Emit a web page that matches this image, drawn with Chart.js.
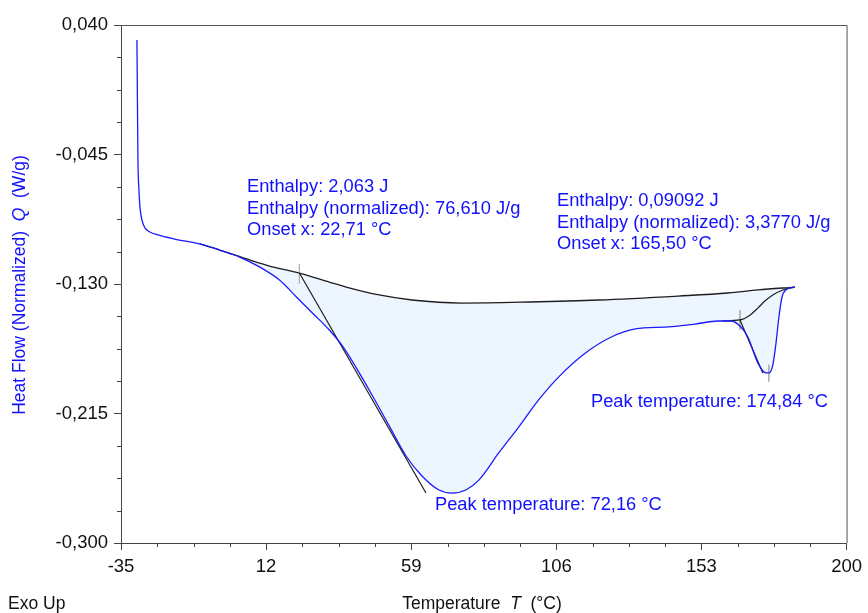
<!DOCTYPE html>
<html>
<head>
<meta charset="utf-8">
<script src="https://cdn.jsdelivr.net/npm/chart.js@4/dist/chart.umd.min.js"></script>
<style>
  html, body { margin: 0; padding: 0; background: #fff; }
  #wrap { width: 868px; height: 613px; position: relative; }
</style>
</head>
<body>
<div id="wrap"><canvas id="dscChart"></canvas></div>
<script>
// DSC curve - heat flow vs temperature

// measured curve (blue)
const curveT = [-29.84, -29.68, -29.51, -29.19, -28.87, -28.22, -27.25, -25.64, -23.06, -17.57, -9.50, -3.04, 3.41, 9.87, 16.33, 21.81, 26.98, 32.47, 36.66, 41.50, 46.35, 51.83, 57.32, 62.49, 67.97, 72.17, 76.69, 80.89, 87.34, 93.80, 100.26, 106.71, 115.43, 123.82, 131.57, 142.22, 150.94, 158.36, 162.56, 165.78, 168.04, 171.27, 173.85, 174.82, 176.11, 177.08, 178.05, 179.02, 180.31, 183.22];
const curveQ = [0.0302, -0.0092, -0.0486, -0.0683, -0.0794, -0.0880, -0.0932, -0.0959, -0.0978, -0.1005, -0.1037, -0.1077, -0.1123, -0.1188, -0.1274, -0.1385, -0.1490, -0.1602, -0.1705, -0.1860, -0.2030, -0.2230, -0.2429, -0.2560, -0.2652, -0.2672, -0.2652, -0.2587, -0.2409, -0.2239, -0.2061, -0.1911, -0.1753, -0.1648, -0.1595, -0.1582, -0.1563, -0.1543, -0.1543, -0.1582, -0.1648, -0.1818, -0.1884, -0.1884, -0.1832, -0.1700, -0.1523, -0.1392, -0.1339, -0.1320];

// integration baseline (upper black line)
const baseT = [-9.50, -3.04, 6.64, 13.10, 22.78, 32.47, 37.95, 48.61, 59.26, 75.40, 97.02, 119.62, 145.45, 161.59, 171.27, 183.22];
const baseQ = [-0.1037, -0.1077, -0.1142, -0.1182, -0.1228, -0.1287, -0.1320, -0.1372, -0.1405, -0.1425, -0.1418, -0.1405, -0.1379, -0.1359, -0.1339, -0.1320];

// second peak baseline
const base2T = [159.60, 165.46, 168.69, 171.27, 173.53, 176.11, 179.34, 183.22];
const base2Q = [-0.1543, -0.1536, -0.1505, -0.1458, -0.1412, -0.1372, -0.1339, -0.1320];

// onset tangents
const tan1T = [22.78, 63.78];
const tan1Q = [-0.1228, -0.2672];
const tan2T = [165.46, 172.88];
const tan2Q = [-0.1536, -0.1884];

// small marker ticks (onset 1, onset 2, peak 2)
const markT = [22.78, 165.46, 174.82];
const markQtop = [-0.1170, -0.1470, -0.1830];
const markQbot = [-0.1300, -0.1600, -0.1940];

// axes
const xTicks = [-35, 12, 59, 106, 153, 200];
const yTicks = [0.040, -0.045, -0.130, -0.215, -0.300];

const annotations1 = ['Enthalpy: 2,063 J', 'Enthalpy (normalized): 76,610 J/g', 'Onset x: 22,71 °C'];
const annotations2 = ['Enthalpy: 0,09092 J', 'Enthalpy (normalized): 3,3770 J/g', 'Onset x: 165,50 °C'];
const peak1Label = 'Peak temperature: 72,16 °C';
const peak2Label = 'Peak temperature: 174,84 °C';

const FONT = '"Liberation Sans", Arial, sans-serif';
const BLUE = '#1010ff';

function pts(xs, ys) {
    return xs.map((x, i) => ({x: x, y: ys[i]}));
}

let datasets = [
    {
        label: 'curve',
        data: pts(curveT, curveQ),
        borderColor: '#1a1aff',
        borderWidth: 1.3,
        pointRadius: 0,
        cubicInterpolationMode: 'monotone',
        fill: false
    },
    {
        label: 'baseline',
        data: pts(baseT, baseQ),
        borderColor: '#1e1e1e',
        borderWidth: 1.3,
        pointRadius: 0,
        cubicInterpolationMode: 'monotone',
        backgroundColor: '#edf5ff',
        fill: {target: 0}
    },
    {
        label: 'baseline2',
        data: pts(base2T, base2Q),
        borderColor: '#1e1e1e',
        borderWidth: 1.2,
        pointRadius: 0,
        cubicInterpolationMode: 'monotone',
        fill: false
    },
    {
        label: 'tangent1',
        data: pts(tan1T, tan1Q),
        borderColor: '#1e1e1e',
        borderWidth: 1.2,
        pointRadius: 0,
        fill: false
    },
    {
        label: 'tangent2',
        data: pts(tan2T, tan2Q),
        borderColor: '#1e1e1e',
        borderWidth: 1.2,
        pointRadius: 0,
        fill: false
    }
];

markT.forEach((t, i) => {
    datasets.push({
        label: 'mark' + i,
        data: [{x: t, y: markQtop[i]}, {x: t, y: markQbot[i]}],
        borderColor: '#b0b0b0',
        borderWidth: 1,
        pointRadius: 0,
        fill: false
    });
});

function fmtComma(v, digits) {
    return v.toFixed(digits).replace('.', ',');
}

function drawRich(ctx, parts, x, y) {
    let total = 0;
    parts.forEach(p => { ctx.font = p.font; total += ctx.measureText(p.text).width; });
    let cx = x - total / 2;
    parts.forEach(p => {
        ctx.font = p.font;
        ctx.fillText(p.text, cx, y);
        cx += ctx.measureText(p.text).width;
    });
}

const decorPlugin = {
    id: 'decor',
    afterDraw(chart) {
        const ctx = chart.ctx;
        const area = chart.chartArea;
        const xs = chart.scales.x;
        const ys = chart.scales.y;
        ctx.save();

        // frame top and right
        ctx.strokeStyle = '#555';
        ctx.lineWidth = 1;
        ctx.beginPath();
        ctx.moveTo(area.left, area.top + 0.5);
        ctx.lineTo(area.right + 0.5, area.top + 0.5);
        ctx.lineTo(area.right + 0.5, area.bottom);
        ctx.stroke();

        // minor ticks
        ctx.strokeStyle = '#444';
        ctx.beginPath();
        for (let i = 0; i < xTicks.length - 1; i++) {
            let step = (xTicks[i + 1] - xTicks[i]) / 4;
            for (let k = 1; k < 4; k++) {
                let px = Math.round(xs.getPixelForValue(xTicks[i] + k * step)) + 0.5;
                ctx.moveTo(px, area.bottom);
                ctx.lineTo(px, area.bottom + 4);
            }
        }
        for (let i = 0; i < yTicks.length - 1; i++) {
            let step = (yTicks[i + 1] - yTicks[i]) / 4;
            for (let k = 1; k < 4; k++) {
                let py = Math.round(ys.getPixelForValue(yTicks[i] + k * step)) + 0.5;
                ctx.moveTo(area.left, py);
                ctx.lineTo(area.left - 4, py);
            }
        }
        ctx.stroke();

        // annotations
        ctx.fillStyle = BLUE;
        ctx.textBaseline = 'middle';
        ctx.textAlign = 'left';
        ctx.font = '18.3px ' + FONT;
        annotations1.forEach((s, i) => ctx.fillText(s, 247, 187 + i * 21.5));
        annotations2.forEach((s, i) => ctx.fillText(s, 557, 201 + i * 21.5));
        ctx.fillText(peak1Label, 435, 505);
        ctx.fillText(peak2Label, 591, 402);

        // x title
        ctx.fillStyle = '#111';
        drawRich(ctx, [
            {text: 'Temperature  ', font: '17.5px ' + FONT},
            {text: 'T', font: 'italic 17.5px ' + FONT},
            {text: '  (°C)', font: '17.5px ' + FONT}
        ], 482, 604);

        // exo up
        ctx.font = '17.5px ' + FONT;
        ctx.textAlign = 'left';
        ctx.fillText('Exo Up', 8, 604);

        // y title
        ctx.translate(20, 285);
        ctx.rotate(-Math.PI / 2);
        ctx.fillStyle = BLUE;
        drawRich(ctx, [
            {text: 'Heat Flow (Normalized)  ', font: '17.5px ' + FONT},
            {text: 'Q', font: 'italic 17.5px ' + FONT},
            {text: '  (W/g)', font: '17.5px ' + FONT}
        ], 0, 0);

        ctx.restore();
    }
};

let canvasElement = document.getElementById('dscChart').getContext('2d');
let config = {
    type: 'line',
    data: {datasets: datasets},
    options: {
        responsive: true,
        maintainAspectRatio: false,
        animation: false,
        layout: {padding: {left: 0, top: 25, right: 19, bottom: 0}},
        plugins: {
            legend: {display: false},
            tooltip: {enabled: false},
            filler: {drawTime: 'beforeDatasetsDraw'}
        },
        scales: {
            x: {
                type: 'linear',
                min: -35,
                max: 200,
                afterBuildTicks: axis => { axis.ticks = xTicks.map(v => ({value: v})); },
                afterFit: axis => { axis.height = 70; },
                ticks: {
                    autoSkip: false,
                    maxRotation: 0,
                    padding: 6,
                    color: '#111',
                    font: {family: FONT, size: 18.5},
                    callback: v => String(v)
                },
                grid: {drawOnChartArea: false, tickLength: 7, color: '#444', tickColor: '#444'},
                border: {color: '#444'}
            },
            y: {
                type: 'linear',
                min: -0.300,
                max: 0.040,
                afterBuildTicks: axis => { axis.ticks = yTicks.map(v => ({value: v})); },
                afterFit: axis => { axis.width = 121; },
                ticks: {
                    autoSkip: false,
                    padding: 6,
                    color: '#111',
                    font: {family: FONT, size: 18.5},
                    callback: v => fmtComma(v, 3)
                },
                grid: {drawOnChartArea: false, tickLength: 7, color: '#444', tickColor: '#444'},
                border: {color: '#444'}
            }
        }
    },
    plugins: [decorPlugin]
};

let myChart = new Chart(canvasElement, config);
</script>
</body>
</html>
